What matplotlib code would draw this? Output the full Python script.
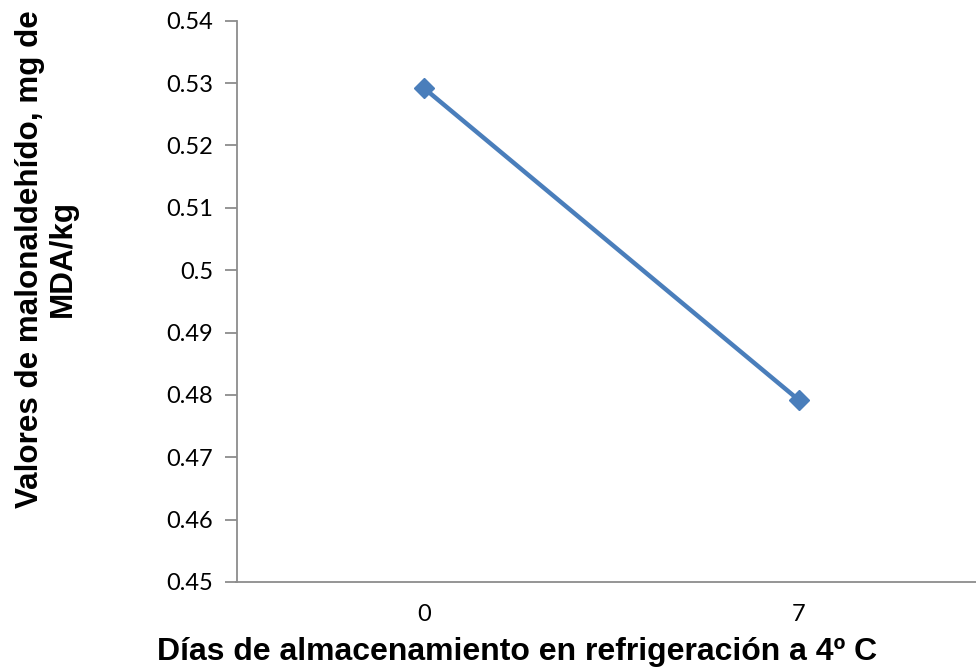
import matplotlib
matplotlib.use("Agg")
import matplotlib.pyplot as plt

categories = ["0", "7"]
values = [0.5292, 0.4792]
y_ticks = [0.45, 0.46, 0.47, 0.48, 0.49, 0.5, 0.51, 0.52, 0.53, 0.54]
y_tick_labels = ["0.45", "0.46", "0.47", "0.48", "0.49", "0.5", "0.51", "0.52", "0.53", "0.54"]

W, H = 976, 670
fig = plt.figure(figsize=(W / 100, H / 100), dpi=100)
left, right, top, bottom = 236.5, 986, 20.7, 582
ax = fig.add_axes([left / W, 1 - bottom / H, (right - left) / W, (bottom - top) / H])
ax.patch.set_alpha(0)

x = list(range(len(categories)))
ax.plot(x, values, color="#4A7EBB", linewidth=3.2, marker="D", markersize=10.5,
        markerfacecolor="#4A7EBB", markeredgecolor="#4A7EBB", solid_capstyle="round",
        clip_on=False)

ax.set_xlim(-0.5, 1.5)
ax.set_ylim(0.45, 0.54)
ax.set_yticks(y_ticks)
ax.set_yticklabels(y_tick_labels, fontfamily="Lato", fontsize=17)
ax.set_xticks(x)
ax.set_xticklabels(categories, fontfamily="Lato", fontsize=17)

for s in ["top", "right"]:
    ax.spines[s].set_visible(False)
for s in ["left", "bottom"]:
    ax.spines[s].set_color("#8C8C8C")
    ax.spines[s].set_linewidth(1.3)
ax.tick_params(axis="y", direction="out", length=9, width=1.3, color="#8C8C8C", pad=8)
ax.tick_params(axis="x", length=0, pad=16)

fig.text(517 / W, 1 - 660 / H, "Días de almacenamiento en refrigeración a 4º C",
         fontfamily="Liberation Sans", fontweight="bold", fontsize=23,
         ha="center", va="baseline")
fig.text(46 / W, 1 - 259 / H, "Valores de malonaldehído, mg de\nMDA/kg",
         fontfamily="Liberation Sans", fontweight="bold", fontsize=22.6,
         ha="center", va="center", rotation=90, multialignment="center",
         linespacing=1.12)

fig.savefig("out.png", dpi=100)
